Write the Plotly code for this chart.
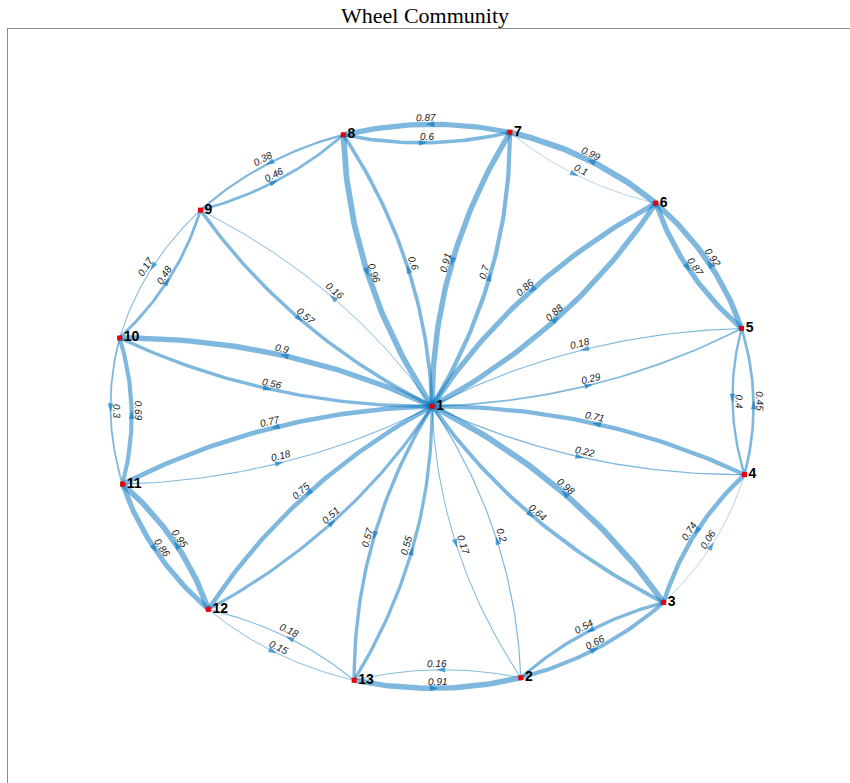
import numpy as np
import plotly.graph_objects as go

# ---------------- data ----------------
node_ids = list(range(1, 14))          # node 1 is the hub, 2..13 the rim
src = [1, 2, 1, 3, 1, 4, 1, 5, 1, 6, 1, 7, 1, 8, 1, 9, 1, 10, 1, 11, 1, 12, 1, 13,
       2, 3, 3, 4, 4, 5, 5, 6, 6, 7, 7, 8, 8, 9, 9, 10, 10, 11, 11, 12, 12, 13, 13, 2]
dst = [2, 1, 3, 1, 4, 1, 5, 1, 6, 1, 7, 1, 8, 1, 9, 1, 10, 1, 11, 1, 12, 1, 13, 1,
       3, 2, 4, 3, 5, 4, 6, 5, 7, 6, 8, 7, 9, 8, 10, 9, 11, 10, 12, 11, 13, 12, 2, 13]
weights = [0.17, 0.2, 0.64, 0.98, 0.22, 0.71, 0.29, 0.18, 0.88, 0.86, 0.7, 0.91,
           0.6, 0.96, 0.16, 0.57, 0.9, 0.56, 0.77, 0.18, 0.75, 0.51, 0.57, 0.55,
           0.66, 0.54, 0.06, 0.74, 0.45, 0.4, 0.92, 0.87, 0.99, 0.1, 0.87, 0.6,
           0.38, 0.46, 0.17, 0.48, 0.3, 0.69, 0.86, 0.95, 0.15, 0.18, 0.91, 0.16]
title_text = "Wheel Community"

# ---------------- layout of the wheel ----------------
W, H = 850, 783
ML, MT = 8, 29
xr = [-1.317, 1.298]
yr = [-1.334, 1.336]
sx = (W - ML) / (xr[1] - xr[0])
sy = (H - MT) / (yr[1] - yr[0])

pos = {1: np.array([0.0, 0.0])}
for k in range(2, 14):
    ang = np.radians(-74 + 30 * (k - 2))
    pos[k] = np.array([np.cos(ang), np.sin(ang)])

EDGE_RGB = "0,114,189"
K = 0.063
fig = go.Figure()
ax_x, ax_y, ax_ang = [], [], []
annotations = []

for s, t, w in zip(src, dst, weights):
    a, b = pos[s], pos[t]
    d = b - a
    L = np.hypot(*d)
    nrm = np.array([d[1], -d[0]]) / L        # right-hand side of travel
    mid = (a + b) / 2
    off = K * L
    ctrl = mid + 2 * off * nrm
    tt = np.linspace(0, 1, 50)[:, None]
    P = (1 - tt) ** 2 * a + 2 * (1 - tt) * tt * ctrl + tt ** 2 * b
    fig.add_trace(go.Scatter(
        x=P[:, 0], y=P[:, 1], mode="lines",
        line=dict(color=f"rgba({EDGE_RGB},0.5)", width=max(0.6, 6 * w)),
        hoverinfo="skip", showlegend=False))
    m = mid + off * nrm
    dxs, dys_up = d[0] * sx, d[1] * sy
    ax_x.append(m[0]); ax_y.append(m[1])
    ax_ang.append(np.degrees(np.arctan2(dxs, dys_up)))
    # text angle (clockwise, screen)
    th = np.degrees(np.arctan2(-dys_up, dxs))
    if th > 90.5:
        th -= 180
    elif th <= -89.5:
        th += 180
    sh = 6.5
    xs = sh * np.sin(np.radians(th))
    ys = sh * np.cos(np.radians(th))
    annotations.append(dict(
        x=m[0], y=m[1], xref="x", yref="y", text=f"{w:g}", showarrow=False,
        textangle=th, xshift=xs, yshift=ys,
        font=dict(family="Liberation Sans, Arial", size=10, color="#1a1a1a", style="italic")))

fig.add_trace(go.Scatter(
    x=ax_x, y=ax_y, mode="markers",
    marker=dict(symbol="arrow", size=8, angle=ax_ang,
                color=f"rgba({EDGE_RGB},0.6)",
                line=dict(width=0.5, color=f"rgba({EDGE_RGB},0.6)")),
    hoverinfo="skip", showlegend=False))

fig.add_trace(go.Scatter(
    x=[pos[n][0] for n in node_ids], y=[pos[n][1] for n in node_ids],
    mode="markers+text", text=[str(n) for n in node_ids],
    textposition="middle right",
    textfont=dict(family="Liberation Sans, Arial", size=14, color="black", weight="bold"),
    marker=dict(symbol="square", size=5, color="#e8000b"),
    hoverinfo="skip", showlegend=False))

fig.update_layout(
    width=W, height=H,
    margin=dict(l=ML, r=0, t=MT, b=0),
    paper_bgcolor="white", plot_bgcolor="white",
    title=dict(text=title_text, x=0.5, xref="container", xanchor="center",
               y=1 - 15 / H, yref="container", yanchor="middle",
               font=dict(family="Liberation Serif, DejaVu Serif", size=22, color="black")),
    xaxis=dict(range=xr, showgrid=False, zeroline=False, showticklabels=False,
               ticks="", showline=True, side="top", linecolor="#8c8c8c", linewidth=1),
    yaxis=dict(range=yr, showgrid=False, zeroline=False, showticklabels=False,
               ticks="", showline=True, linecolor="#8c8c8c", linewidth=1),
    annotations=annotations,
)

fig.write_html("out.html")
